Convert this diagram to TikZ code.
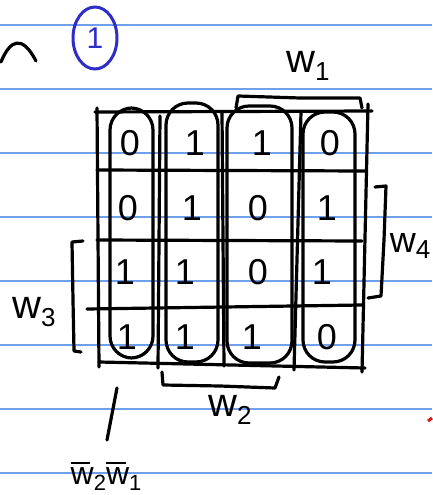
\documentclass[tikz,border=0pt]{standalone}
\usepackage{fontspec}
\setsansfont{Liberation Sans}
\usetikzlibrary{shapes.geometric}
\newcommand{\wsub}[1]{w\raisebox{-0.35ex}{\fontsize{26}{28}\selectfont #1}}
\newcommand{\wbar}[1]{\rlap{\raisebox{0.62em}{\rule{0.62em}{2.4pt}}}w\raisebox{-0.35ex}{\fontsize{22}{24}\selectfont #1}}
\begin{document}
\begin{tikzpicture}[x=1pt,y=-1pt,
  ink/.style={line width=3.2pt,line cap=round,line join=round,black},
  ruled/.style={line width=1.2pt,color=rule},
  digit/.style={font=\sffamily\fontsize{36}{38}\selectfont,inner sep=0pt},
  lbl/.style={font=\sffamily\fontsize{40}{42}\selectfont,inner sep=0pt},
  oval/.style={ink,rounded corners=22pt}]
\definecolor{rule}{RGB}{110,160,235}
\definecolor{penblue}{RGB}{45,45,200}
\definecolor{penred}{RGB}{230,20,20}
\useasboundingbox (0,0) rectangle (432,495);
\fill[white] (0,0) rectangle (432,495);
% ruled paper lines
\foreach \yy in {25,89,153,217,281,345,409,473}
  \draw[ruled] (0,\yy) -- (432,\yy);
% top-left scribble and circled number
\draw[ink] (1,62) .. controls (10,40) and (22,34) .. (36,61);
\node[draw=penblue,line width=3pt,ellipse,minimum width=44pt,minimum height=62pt,inner sep=0pt,
  text=penblue,font=\sffamily\fontsize{30}{32}\selectfont] (c1) at (95,38) {1};
% horizontal grid lines
\draw[ink] (95,112) -- (372,111);
\draw[ink] (97,170) -- (365,171);
\draw[ink] (97,240) -- (362,241);
\draw[ink] (87,309) -- (362,305);
\draw[ink] (99,362) -- (365,368);
% vertical grid lines
\draw[ink] (97,108) -- (99,367);
\draw[ink] (160,116) -- (158,368);
\draw[ink] (222,112) -- (224,366);
\draw[ink] (301,112) -- (294,370);
\draw[ink] (368,104) -- (362,372);
% ovals around columns
\draw[oval] (110,108) rectangle (153,358);
\draw[oval] (166,103) rectangle (218,362);
\draw[oval] (227,106) rectangle (292,363);
\draw[oval] (303,112) rectangle (355,362);
% cell values
\node[digit] (a11) at (130,143) {0};
\node[digit] (a12) at (195,143) {1};
\node[digit] (a13) at (262,143) {1};
\node[digit] (a14) at (330,143) {0};
\node[digit] (a21) at (128,208) {0};
\node[digit] (a22) at (192,208) {1};
\node[digit] (a23) at (258,208) {0};
\node[digit] (a24) at (327,208) {1};
\node[digit] (a31) at (125,272) {1};
\node[digit] (a32) at (185,272) {1};
\node[digit] (a33) at (258,272) {0};
\node[digit] (a34) at (322,272) {1};
\node[digit] (a41) at (127,337) {1};
\node[digit] (a42) at (185,337) {1};
\node[digit] (a43) at (252,337) {1};
\node[digit] (a44) at (327,337) {0};
% brackets
\draw[ink] (236,108) -- (238,96) -- (300,98) -- (360,98) -- (362,108);
\draw[ink] (375,187) -- (386,186) -- (384,240) -- (381,296) -- (368,298);
\draw[ink] (83,241) -- (72,242) -- (73,300) -- (74,351) -- (81,352);
\draw[ink] (162,372) -- (163,385) -- (220,386) -- (275,388) -- (279,377);
% labels
\node[lbl] (w1) at (308,66) {\wsub{1}};
\node[lbl,font=\sffamily\fontsize{36}{38}\selectfont] (w4) at (410,246) {\wsub{4}};
\node[lbl] (w3) at (34,312) {\wsub{3}};
\node[lbl] (w2) at (230,410) {\wsub{2}};
\node[lbl,font=\sffamily\fontsize{32}{34}\selectfont] (w21) at (106,476) {\wbar{2}\wbar{1}};
\coordinate (p1) at (117,388);
\coordinate (p2) at (107,440);
\draw[ink] (p1) -- (p2);
% red mark at right edge
\draw[line width=3pt,penred] (428,421) -- (432,418);
\end{tikzpicture}
\end{document}
